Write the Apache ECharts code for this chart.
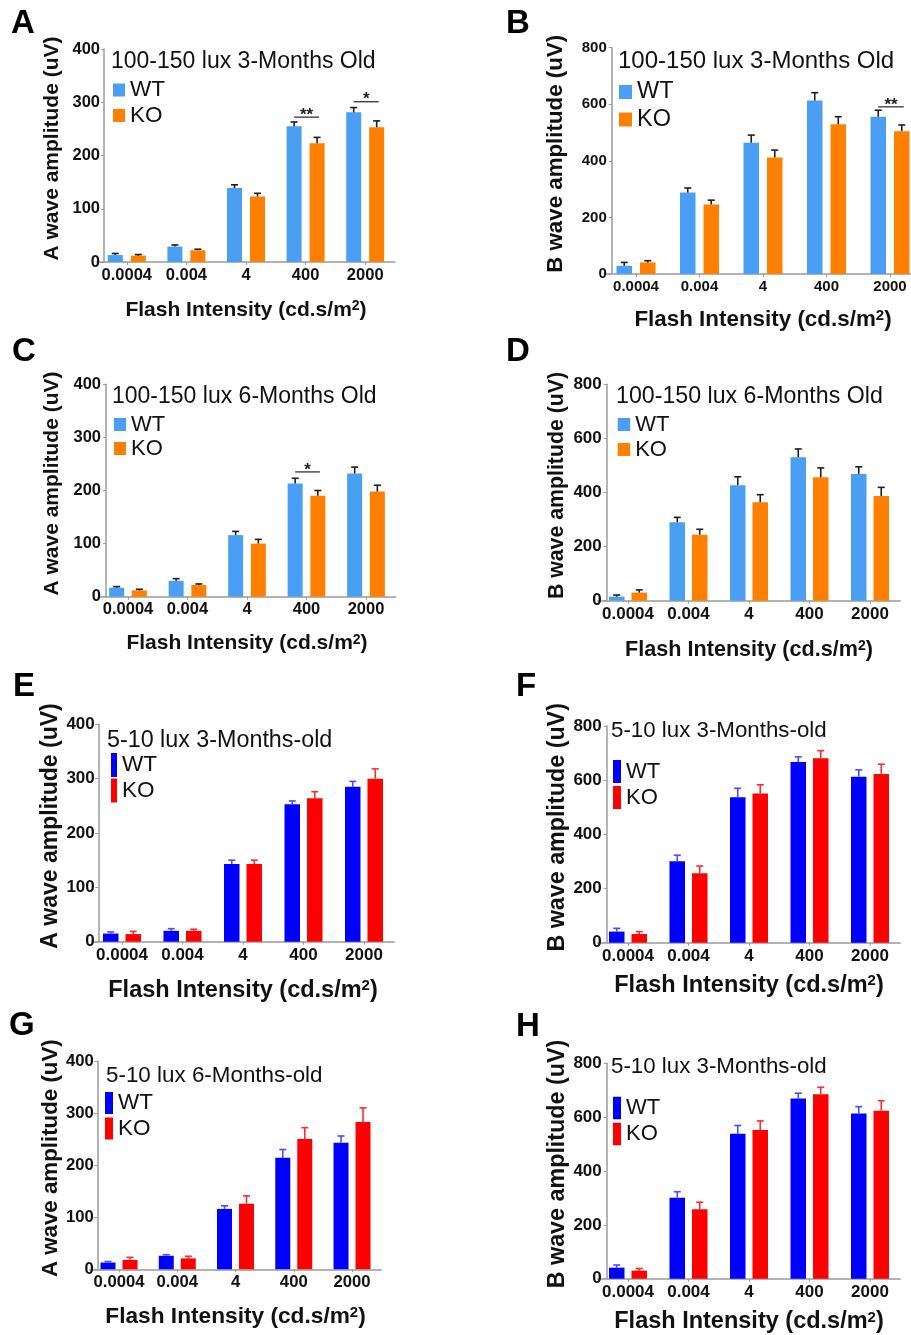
<!DOCTYPE html>
<html><head><meta charset="utf-8">
<script src="https://cdn.jsdelivr.net/npm/echarts@6/dist/echarts.min.js"></script>
<style>html,body{margin:0;padding:0;background:#fff}#c{width:911px;height:1335px}</style>
</head><body><div id="c"></div>
<script>
// ---------------- DATA ----------------
const categories = ['0.0004', '0.004', '4', '400', '2000'];

// A: A-wave, 100-150 lux, 3 months
const A_WT = [13, 29, 139, 255, 281];
const A_WT_err = [3, 3, 6, 8, 9];
const A_KO = [12, 22, 123, 223, 253];
const A_KO_err = [2, 2, 6, 11, 12];
const A_sigCats = [3, 4];
const A_sigLevels = [272, 301];
const A_sigMarks = ['**', '*'];

// B: B-wave, 100-150 lux, 3 months
const B_WT = [29, 288, 464, 613, 556];
const B_WT_err = [12, 16, 27, 28, 23];
const B_KO = [41, 246, 412, 529, 505];
const B_KO_err = [6, 15, 26, 27, 22];
const B_sigCats = [4];
const B_sigLevels = [591];
const B_sigMarks = ['**'];

// C: A-wave, 100-150 lux, 6 months
const C_WT = [17, 30, 116, 213, 232];
const C_WT_err = [2, 4, 7, 10, 12];
const C_KO = [12, 22, 100, 190, 198];
const C_KO_err = [2, 2, 8, 10, 12];
const C_sigCats = [3];
const C_sigLevels = [235];
const C_sigMarks = ['*'];

// D: B-wave, 100-150 lux, 6 months
const D_WT = [15, 290, 427, 530, 468];
const D_WT_err = [6, 18, 31, 31, 27];
const D_KO = [30, 244, 364, 456, 387];
const D_KO_err = [10, 20, 28, 35, 32];

// E: A-wave, 5-10 lux, 3 months
const E_WT = [15, 20, 143, 253, 285];
const E_WT_err = [3, 4, 7, 6, 10];
const E_KO = [14, 20, 143, 264, 300];
const E_KO_err = [5, 3, 7, 12, 18];

// F: B-wave, 5-10 lux, 3 months
const F_WT = [41, 301, 537, 667, 613];
const F_WT_err = [12, 22, 33, 19, 25];
const F_KO = [32, 256, 551, 681, 623];
const F_KO_err = [9, 27, 32, 28, 36];

// G: A-wave, 5-10 lux, 6 months
const G_WT = [13, 26, 116, 214, 243];
const G_WT_err = [2, 2, 6, 16, 13];
const G_KO = [18, 21, 126, 250, 283];
const G_KO_err = [5, 4, 15, 22, 27];

// H: B-wave, 5-10 lux, 3 months
const H_WT = [41, 301, 538, 669, 614];
const H_WT_err = [10, 22, 31, 20, 25];
const H_KO = [30, 258, 552, 685, 624];
const H_KO_err = [8, 26, 34, 26, 37];

const seriesNames = ['WT', 'KO'];
const panelLetters = ['A', 'B', 'C', 'D', 'E', 'F', 'G', 'H'];
const panelTitles = [
  '100-150 lux 3-Months Old', '100-150 lux 3-Months Old',
  '100-150 lux 6-Months Old', '100-150 lux 6-Months Old',
  '5-10 lux 3-Months-old', '5-10 lux 3-Months-old',
  '5-10 lux 6-Months-old', '5-10 lux 3-Months-old'
];
const yNames = ['A wave amplitude (uV)', 'B wave amplitude (uV)'];
const xName = 'Flash Intensity (cd.s/m{sup|2})';

// ---------------- LAYOUT / STYLE ----------------
const FONT = "'Liberation Sans', Arial, Helvetica, sans-serif";
const bright = { wt: '#4a9ff5', ko: '#ff8000', wtErr: '#1e1e1e', koErr: '#1e1e1e' };
const dim = { wt: '#0000ff', ko: '#ff0000', wtErr: '#4a4aff', koErr: '#ff2a2a' };

const panels = [
  { wt: A_WT, wtE: A_WT_err, ko: A_KO, koE: A_KO_err, sc: A_sigCats, sl: A_sigLevels, sm: A_sigMarks,
    letter: [11, 7], grid: { left: 97, top: 49, width: 298, height: 213 }, yOff: -7, yMax: 400,
    tick: 16.5, yLblM: 4, xLblM: 4.5, barW: 15, gap: 8, yName: 0, yNS: 21, yNG: 41.5, xNS: 21, xNG: 37.5,
    title: [111, 50.2, 23], lg: { l: 113, t: 78.5, w: 12, h: 13, g: 2.5, f: 22.5 }, c: bright },
  { wt: B_WT, wtE: B_WT_err, ko: B_KO, koE: B_KO_err, sc: B_sigCats, sl: B_sigLevels, sm: B_sigMarks,
    letter: [506, 7], grid: { left: 604.25, top: 47.7, width: 317.5, height: 226.3 }, yOff: -7.5, yMax: 800,
    tick: 15, yLblM: 5, xLblM: 5.5, barW: 15.5, gap: 8, yName: 1, yNS: 22.3, yNG: 44.5, xNS: 22.4, xNG: 34.8,
    title: [618, 49.7, 24], lg: { l: 619, t: 80, w: 13, h: 14, g: 3.5, f: 23.5 }, c: bright },
  { wt: C_WT, wtE: C_WT_err, ko: C_KO, koE: C_KO_err, sc: C_sigCats, sl: C_sigLevels, sm: C_sigMarks,
    letter: [12, 335], grid: { left: 98.25, top: 384.3, width: 297.5, height: 212.4 }, yOff: -7.75, yMax: 400,
    tick: 16.5, yLblM: 5, xLblM: 4.5, barW: 15, gap: 7.7, yName: 0, yNS: 21, yNG: 43.5, xNS: 21, xNG: 36,
    title: [112, 385.2, 23], lg: { l: 114, t: 413.5, w: 12, h: 13, g: 2, f: 22 }, c: bright },
  { wt: D_WT, wtE: D_WT_err, ko: D_KO, koE: D_KO_err, sc: [], sl: [], sm: [],
    letter: [506, 335], grid: { left: 597.75, top: 384.3, width: 302.5, height: 216.4 }, yOff: -9, yMax: 800,
    tick: 17, yLblM: 5, xLblM: 5.5, barW: 15.5, gap: 7, yName: 1, yNS: 21.3, yNG: 39, xNS: 21.6, xNG: 38.5,
    title: [616, 385, 23.2], lg: { l: 617.7, t: 413.5, w: 12.5, h: 13, g: 3, f: 22 }, c: bright },
  { wt: E_WT, wtE: E_WT_err, ko: E_KO, koE: E_KO_err, sc: [], sl: [], sm: [],
    letter: [13, 670.5], grid: { left: 91.75, top: 724.3, width: 302.5, height: 217.4 }, yOff: -6.5, yMax: 400,
    tick: 17, yLblM: 3.5, xLblM: 5.5, barW: 15.5, gap: 7, yName: 0, yNS: 23, yNG: 34.3, xNS: 23.5, xNG: 36.5,
    title: [107, 729.5, 23.3], lg: { l: 111, t: 753, w: 6, h: 24, g: 1.5, f: 22.5 }, c: dim },
  { wt: F_WT, wtE: F_WT_err, ko: F_KO, koE: F_KO_err, sc: [], sl: [], sm: [],
    letter: [516, 670.5], grid: { left: 597.75, top: 726, width: 302.5, height: 216.7 }, yOff: -9, yMax: 800,
    tick: 17, yLblM: 5, xLblM: 4.8, barW: 15.5, gap: 7, yName: 1, yNS: 23.3, yNG: 37.7, xNS: 23.5, xNG: 30.5,
    title: [611, 719.7, 22.3], lg: { l: 613, t: 760, w: 8, h: 23, g: 3, f: 22 }, c: dim },
  { wt: G_WT, wtE: G_WT_err, ko: G_KO, koE: G_KO_err, sc: [], sl: [], sm: [],
    letter: [9, 1009.5], grid: { left: 89.9, top: 1061, width: 291.25, height: 208.3 }, yOff: -7.4, yMax: 400,
    tick: 16.7, yLblM: 3.5, xLblM: 5, barW: 15, gap: 7, yName: 0, yNS: 22.3, yNG: 34, xNS: 22.7, xNG: 36,
    title: [106, 1065.3, 22.4], lg: { l: 105, t: 1091.5, w: 8, h: 22, g: 2.5, f: 22.5 }, c: dim },
  { wt: H_WT, wtE: H_WT_err, ko: H_KO, koE: H_KO_err, sc: [], sl: [], sm: [],
    letter: [516, 1010.3], grid: { left: 597.75, top: 1063.3, width: 302.5, height: 215.4 }, yOff: -9, yMax: 800,
    tick: 17, yLblM: 5, xLblM: 5.5, barW: 15.5, gap: 7, yName: 1, yNS: 23.3, yNG: 37.7, xNS: 23.5, xNG: 31.2,
    title: [611, 1056.3, 22.3], lg: { l: 613, t: 1096.75, w: 8, h: 22.5, g: 3.5, f: 22 }, c: dim }
];

const AXIS_GRAY = '#9b9b9b';
const option = {
  animation: false,
  backgroundColor: '#fff',
  textStyle: { fontFamily: FONT },
  title: [], legend: [], grid: [], xAxis: [], yAxis: [], series: []
};

function errSeries(i, vals, errs, dx, color) {
  return {
    type: 'custom', name: 'err' + i + dx, xAxisIndex: i, yAxisIndex: i, z: 4, silent: true,
    data: vals.map((v, j) => [j, v, errs[j]]),
    renderItem: function (params, api) {
      const j = api.value(0), v = api.value(1), e = api.value(2);
      const b = api.coord([j, v]);
      const t = api.coord([j, v + e]);
      const x = b[0] + dx;
      const cap = 7;
      return {
        type: 'group', children: [
          { type: 'line', shape: { x1: x, y1: b[1], x2: x, y2: t[1] }, style: { stroke: color, lineWidth: 1.6 } },
          { type: 'line', shape: { x1: x - cap / 2, y1: t[1], x2: x + cap / 2, y2: t[1] }, style: { stroke: color, lineWidth: 1.6 } }
        ]
      };
    }
  };
}

function sigSeries(i, cats, levels, marks, half) {
  return {
    type: 'custom', name: 'sig' + i, xAxisIndex: i, yAxisIndex: i, z: 5, silent: true,
    data: cats.map((c, k) => [c, levels[k]]),
    renderItem: function (params, api) {
      const c = api.value(0), lv = api.value(1);
      const p = api.coord([c, lv]);
      const x1 = p[0] - half, x2 = p[0] + half + 2;
      return {
        type: 'group', children: [
          { type: 'line', shape: { x1: x1, y1: p[1], x2: x2, y2: p[1] }, style: { stroke: '#333', lineWidth: 1.3 } },
          { type: 'text', style: { text: marks[params.dataIndex], x: (x1 + x2) / 2, y: p[1] - 2,
            align: 'center', verticalAlign: 'middle', font: 'bold 17px ' + FONT, fill: '#222' } }
        ]
      };
    }
  };
}

panels.forEach((p, i) => {
  option.title.push({
    text: panelLetters[i], left: p.letter[0], top: p.letter[1], padding: 0,
    textStyle: { fontFamily: FONT, fontWeight: 'bold', fontSize: 33, color: '#000' }
  });
  option.title.push({
    text: panelTitles[i], left: p.title[0], top: p.title[1], padding: 0,
    textStyle: { fontFamily: FONT, fontWeight: 'normal', fontSize: p.title[2], color: '#111' }
  });
  option.legend.push({
    orient: 'vertical', left: p.lg.l, top: p.lg.t, padding: 0, itemWidth: p.lg.w, itemHeight: p.lg.h,
    itemGap: p.lg.g, icon: 'rect', selectedMode: false,
    data: [{ name: seriesNames[0], itemStyle: { color: p.c.wt } }, { name: seriesNames[1], itemStyle: { color: p.c.ko } }],
    textStyle: { fontFamily: FONT, fontSize: p.lg.f, lineHeight: 20, color: '#111' }
  });
  option.grid.push(Object.assign({ containLabel: false, outerBoundsMode: 'none' }, p.grid));
  option.xAxis.push({
    type: 'category', gridIndex: i, data: categories, boundaryGap: true,
    axisLine: { show: true, lineStyle: { color: AXIS_GRAY, width: 1.5 } },
    axisTick: { show: true, alignWithLabel: true, length: 3, lineStyle: { color: AXIS_GRAY } },
    axisLabel: { fontFamily: FONT, fontWeight: 'bold', fontSize: p.tick, color: '#111', margin: p.xLblM, interval: 0 },
    splitLine: { show: false },
    name: xName, nameLocation: 'middle', nameGap: p.xNG,
    nameTextStyle: { fontFamily: FONT, fontWeight: 'bold', fontSize: p.xNS, color: '#111',
      rich: { sup: { fontFamily: FONT, fontWeight: 'bold', fontSize: Math.round(p.xNS * 0.65), verticalAlign: 'top', color: '#111' } } }
  });
  option.yAxis.push({
    type: 'value', gridIndex: i, min: 0, max: p.yMax, interval: p.yMax / 4, offset: p.yOff,
    axisLine: { show: true, lineStyle: { color: AXIS_GRAY, width: 1.5 } },
    axisTick: { show: true, length: 3, lineStyle: { color: AXIS_GRAY } },
    axisLabel: { fontFamily: FONT, fontWeight: 'bold', fontSize: p.tick, color: '#111', margin: p.yLblM },
    splitLine: { show: false },
    name: yNames[p.yName], nameLocation: 'middle', nameGap: p.yNG,
    nameTextStyle: { fontFamily: FONT, fontWeight: 'bold', fontSize: p.yNS, color: '#111', padding: [0, 0, 0, 14] }
  });
  const gapPct = (p.gap / p.barW * 100) + '%';
  option.series.push({
    type: 'bar', name: seriesNames[0], xAxisIndex: i, yAxisIndex: i, data: p.wt,
    barWidth: p.barW, barGap: gapPct, itemStyle: { color: p.c.wt }, z: 2
  });
  option.series.push({
    type: 'bar', name: seriesNames[1], xAxisIndex: i, yAxisIndex: i, data: p.ko,
    barWidth: p.barW, barGap: gapPct, itemStyle: { color: p.c.ko }, z: 2
  });
  const half = (p.barW + p.gap) / 2;
  option.series.push(errSeries(i, p.wt, p.wtE, -half, p.c.wtErr));
  option.series.push(errSeries(i, p.ko, p.koE, half, p.c.koErr));
  if (p.sc.length) option.series.push(sigSeries(i, p.sc, p.sl, p.sm, half));
});

const chart = echarts.init(document.getElementById('c'), null, { renderer: 'canvas' });
chart.setOption(option);
</script>
</body></html>
